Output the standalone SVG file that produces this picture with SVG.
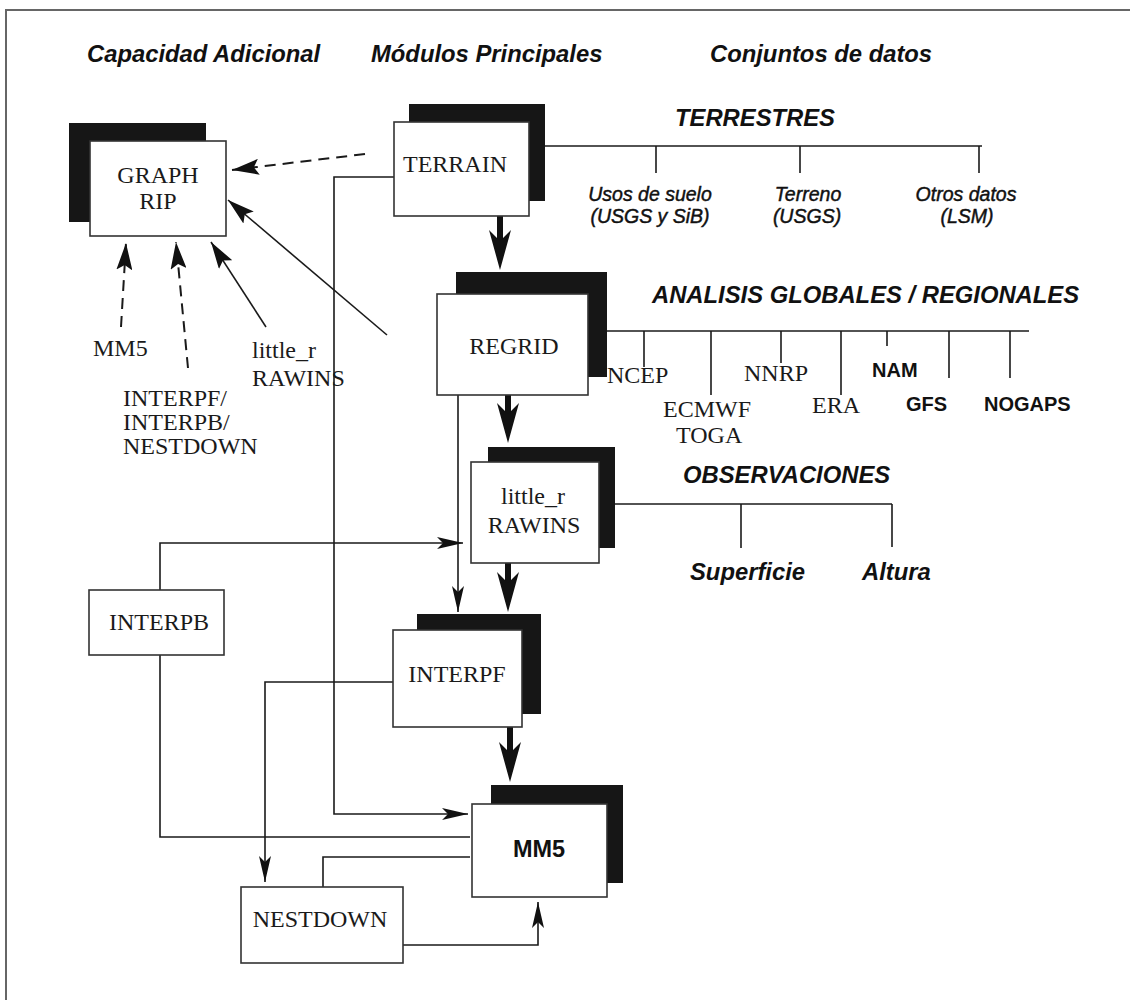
<svg xmlns="http://www.w3.org/2000/svg" xmlns:xlink="http://www.w3.org/1999/xlink" width="1130" height="1000" viewBox="0 0 1130 1000">
<style>
.bg{fill:#fff}
.frame{stroke:#666;stroke-width:2;fill:none}
.box{fill:#fff;stroke:#333;stroke-width:1.6}
.shadow{fill:#161616}
.ln{stroke:#1a1a1a;stroke-width:1.6;fill:none}
.dash{stroke:#1a1a1a;stroke-width:2;fill:none;stroke-dasharray:11 7}
.thick{stroke:#111;stroke-width:6;fill:none}
.head{fill:#111}
.serif{font-family:"Liberation Serif","Times New Roman",serif;font-size:24px;fill:#1a1a1a}
.hdr{font-family:"Liberation Sans",Arial,sans-serif;font-size:23.8px;font-weight:bold;font-style:italic;fill:#111}
.sub{font-family:"Liberation Sans",Arial,sans-serif;font-size:19.5px;font-style:italic;fill:#111;stroke:#111;stroke-width:0.45}
.bold{font-family:"Liberation Sans",Arial,sans-serif;font-size:20px;font-weight:bold;fill:#111}
.mid{text-anchor:middle}
</style>
<defs>
<path id="bighead" d="M0,0 L-11,-40 L0,-29 L11,-40 Z"/>
<marker id="sm" markerUnits="userSpaceOnUse" markerWidth="26" markerHeight="12" refX="26" refY="6" orient="auto" viewBox="0 0 26 12">
<path d="M0,0 L26,6 L0,12 L6,6 Z" fill="#111"/>
</marker>
<marker id="md" markerUnits="userSpaceOnUse" markerWidth="27" markerHeight="16" refX="27" refY="8" orient="auto" viewBox="0 0 27 16">
<path d="M0,0 L27,8 L0,16 L5,8 Z" fill="#111"/>
</marker>
</defs>
<rect class="bg" x="0" y="0" width="1130" height="1000"/>
<line class="frame" x1="5" y1="10" x2="1130" y2="10"/>
<line class="frame" x1="6" y1="10" x2="6" y2="1000"/>

<g id="headers">
<text class="hdr" x="87" y="62">Capacidad Adicional</text>
<text class="hdr" x="371" y="62">Módulos Principales</text>
<text class="hdr" x="710" y="62">Conjuntos de datos</text>
</g>

<g id="connectors">
<line class="thick" x1="500" y1="216" x2="500" y2="244"/>
<use xlink:href="#bighead" class="head" x="500" y="270"/>
<line class="thick" x1="508" y1="395" x2="508" y2="417"/>
<use xlink:href="#bighead" class="head" x="508" y="443"/>
<line class="thick" x1="508" y1="563" x2="508" y2="586"/>
<use xlink:href="#bighead" class="head" x="508" y="612"/>
<line class="thick" x1="510" y1="727" x2="510" y2="756"/>
<use xlink:href="#bighead" class="head" x="510" y="782"/>
<line class="dash" x1="365" y1="154" x2="232" y2="170" marker-end="url(#md)"/>
<line class="ln" x1="387" y1="335" x2="228" y2="200" marker-end="url(#md)"/>
<line class="dash" x1="121" y1="327" x2="126" y2="243" marker-end="url(#md)"/>
<line class="dash" x1="188" y1="368" x2="176" y2="242" marker-end="url(#md)"/>
<line class="ln" x1="266" y1="327" x2="211" y2="242" marker-end="url(#md)"/>
<polyline class="ln" points="394,177 334,177 334,814 468,814" marker-end="url(#sm)"/>
<line class="ln" x1="458" y1="395" x2="458" y2="612" marker-end="url(#sm)"/>
<polyline class="ln" points="160,590 160,543 463,543" marker-end="url(#sm)"/>
<polyline class="ln" points="160,655 160,837 470,837"/>
<polyline class="ln" points="393,682 265,682 265,882" marker-end="url(#sm)"/>
<polyline class="ln" points="323,887 323,857 470,857"/>
<polyline class="ln" points="403,945 538,945 538,902" marker-end="url(#sm)"/>
<line class="ln" x1="545" y1="146" x2="982" y2="146"/>
<line class="ln" x1="656" y1="146" x2="656" y2="173"/>
<line class="ln" x1="800" y1="146" x2="800" y2="173"/>
<line class="ln" x1="979" y1="146" x2="979" y2="173"/>
<line class="ln" x1="607" y1="331" x2="1029" y2="331"/>
<line class="ln" x1="644" y1="331" x2="644" y2="367"/>
<line class="ln" x1="711" y1="331" x2="711" y2="395"/>
<line class="ln" x1="781" y1="331" x2="781" y2="363"/>
<line class="ln" x1="841" y1="331" x2="841" y2="395"/>
<line class="ln" x1="887" y1="331" x2="887" y2="346"/>
<line class="ln" x1="949" y1="331" x2="949" y2="378"/>
<line class="ln" x1="1010" y1="331" x2="1010" y2="378"/>
<line class="ln" x1="615" y1="504" x2="892" y2="504"/>
<line class="ln" x1="741" y1="504" x2="741" y2="548"/>
<line class="ln" x1="892" y1="504" x2="892" y2="547"/>
</g>

<g id="graph-rip">
<rect class="shadow" x="69" y="123" width="137" height="99"/>
<rect class="box" x="90" y="141" width="136" height="95"/>
<text class="serif mid" x="158" y="183">GRAPH</text>
<text class="serif mid" x="158" y="209">RIP</text>
</g>

<g id="terrain">
<rect class="shadow" x="409" y="104" width="136" height="97"/>
<rect class="box" x="394" y="122" width="135" height="94"/>
<text class="serif mid" x="455" y="172">TERRAIN</text>
</g>

<g id="regrid">
<rect class="shadow" x="456" y="272" width="151" height="105"/>
<rect class="box" x="437" y="294" width="151" height="101"/>
<text class="serif mid" x="514" y="354">REGRID</text>
</g>

<g id="little-r">
<rect class="shadow" x="488" y="447" width="127" height="101"/>
<rect class="box" x="471" y="462" width="128" height="101"/>
<text class="serif mid" x="533" y="504">little_r</text>
<text class="serif mid" x="534" y="533">RAWINS</text>
</g>

<g id="interpf">
<rect class="shadow" x="417" y="614" width="124" height="100"/>
<rect class="box" x="393" y="630" width="129" height="97"/>
<text class="serif mid" x="457" y="682">INTERPF</text>
</g>

<g id="interpb">
<rect class="box" x="89" y="590" width="135" height="65"/>
<text class="serif mid" x="159" y="630">INTERPB</text>
</g>

<g id="mm5">
<rect class="shadow" x="491" y="785" width="132" height="98"/>
<rect class="box" x="472" y="804" width="135" height="93"/>
<text class="bold mid" x="539" y="857" style="font-size:23.5px">MM5</text>
</g>

<g id="nestdown">
<rect class="box" x="241" y="887" width="162" height="76"/>
<text class="serif mid" x="320" y="927">NESTDOWN</text>
</g>

<g id="graph-inputs">
<text class="serif" x="93" y="356">MM5</text>
<text class="serif" x="123" y="406">INTERPF/</text>
<text class="serif" x="123" y="430">INTERPB/</text>
<text class="serif" x="123" y="454">NESTDOWN</text>
<text class="serif" x="252" y="358">little_r</text>
<text class="serif" x="252" y="386">RAWINS</text>
</g>

<g id="terrestres">
<text class="hdr" x="675" y="126">TERRESTRES</text>
<text class="sub mid" x="650" y="201">Usos de suelo</text>
<text class="sub mid" x="650" y="223">(USGS y SiB)</text>
<text class="sub mid" x="808" y="201">Terreno</text>
<text class="sub mid" x="807" y="223">(USGS)</text>
<text class="sub mid" x="966" y="201">Otros datos</text>
<text class="sub mid" x="967" y="223">(LSM)</text>
</g>

<g id="analisis">
<text class="hdr" x="652" y="303">ANALISIS GLOBALES / REGIONALES</text>
<text class="serif" x="607" y="383">NCEP</text>
<text class="serif" x="663" y="417">ECMWF</text>
<text class="serif" x="676" y="443">TOGA</text>
<text class="serif" x="744" y="381">NNRP</text>
<text class="serif" x="812" y="413">ERA</text>
<text class="bold" x="872" y="377">NAM</text>
<text class="bold" x="906" y="411">GFS</text>
<text class="bold" x="984" y="411">NOGAPS</text>
</g>

<g id="observaciones">
<text class="hdr" x="683" y="483">OBSERVACIONES</text>
<text class="hdr" x="690" y="580">Superficie</text>
<text class="hdr" x="862" y="580">Altura</text>
</g>
</svg>
